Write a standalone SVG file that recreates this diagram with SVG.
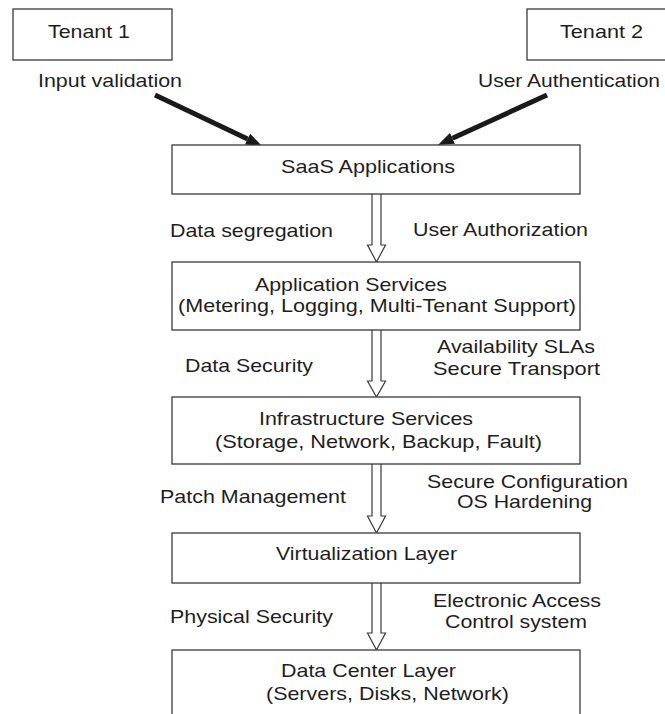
<svg xmlns="http://www.w3.org/2000/svg" width="665" height="714" viewBox="0 0 665 714">
  <style>
    .box { fill: #ffffff; stroke: #3a3a3a; stroke-width: 1.3; }
    .lbl { font-family: "Liberation Sans", Arial, sans-serif; font-size: 18.5px; fill: #1e1e1e; }
    .flow { fill: #ffffff; stroke: #3a3a3a; stroke-width: 1.2; stroke-linejoin: miter; }
    .thick { stroke: #1a1a1a; stroke-width: 5; fill: none; }
  </style>
  <defs>
    <marker id="solidHead" markerUnits="userSpaceOnUse" viewBox="0 0 16 12" refX="0" refY="6" markerWidth="16" markerHeight="12" orient="auto">
      <path d="M0,0 L16,6 L0,12 z" fill="#1a1a1a"/>
    </marker>
  </defs>
  <rect width="665" height="714" fill="#ffffff"/>

  <!-- connectors -->
  <g id="connectors">
    <line class="thick" x1="155" y1="95" x2="247.6" y2="139.1" marker-end="url(#solidHead)"/>
    <line class="thick" x1="547" y1="95" x2="452.5" y2="138.3" marker-end="url(#solidHead)"/>
    <path class="flow" d="M372,194 V245 H367.5 L376.5,262 L385.5,245 H381 V194"/>
    <path class="flow" d="M372,330 V381 H367.5 L376.5,397 L385.5,381 H381 V330"/>
    <path class="flow" d="M372,464 V516 H367.5 L376.5,533 L385.5,516 H381 V464"/>
    <path class="flow" d="M372,583 V633 H367.5 L376.5,650 L385.5,633 H381 V583"/>
    <text class="lbl" x="38" y="87" textLength="144" lengthAdjust="spacingAndGlyphs">Input validation</text>
    <text class="lbl" x="478" y="87" textLength="182" lengthAdjust="spacingAndGlyphs">User Authentication</text>
    <text class="lbl" x="170" y="237" textLength="163" lengthAdjust="spacingAndGlyphs">Data segregation</text>
    <text class="lbl" x="413" y="236" textLength="175" lengthAdjust="spacingAndGlyphs">User Authorization</text>
    <text class="lbl" x="185" y="372" textLength="128" lengthAdjust="spacingAndGlyphs">Data Security</text>
    <text class="lbl" x="437" y="353" textLength="158" lengthAdjust="spacingAndGlyphs">Availability SLAs</text>
    <text class="lbl" x="433" y="375" textLength="167" lengthAdjust="spacingAndGlyphs">Secure Transport</text>
    <text class="lbl" x="160" y="503" textLength="186" lengthAdjust="spacingAndGlyphs">Patch Management</text>
    <text class="lbl" x="427" y="488" textLength="201" lengthAdjust="spacingAndGlyphs">Secure Configuration</text>
    <text class="lbl" x="457" y="508" textLength="135" lengthAdjust="spacingAndGlyphs">OS Hardening</text>
    <text class="lbl" x="170" y="623" textLength="163" lengthAdjust="spacingAndGlyphs">Physical Security</text>
    <text class="lbl" x="433" y="607" textLength="168" lengthAdjust="spacingAndGlyphs">Electronic Access</text>
    <text class="lbl" x="445" y="628" textLength="142" lengthAdjust="spacingAndGlyphs">Control system</text>
  </g>

  <g id="tenant1">
    <rect class="box" x="13" y="9" width="159" height="51"/>
    <text class="lbl" x="48" y="38" textLength="82" lengthAdjust="spacingAndGlyphs">Tenant 1</text>
  </g>

  <g id="tenant2">
    <rect class="box" x="527" y="9" width="150" height="51"/>
    <text class="lbl" x="560" y="38" textLength="83" lengthAdjust="spacingAndGlyphs">Tenant 2</text>
  </g>

  <g id="saas">
    <rect class="box" x="172" y="145" width="408" height="49"/>
    <text class="lbl" x="281" y="173" textLength="174" lengthAdjust="spacingAndGlyphs">SaaS Applications</text>
  </g>

  <g id="app-services">
    <rect class="box" x="172" y="262" width="408" height="68"/>
    <text class="lbl" x="255" y="291" textLength="192" lengthAdjust="spacingAndGlyphs">Application Services</text>
    <text class="lbl" x="178" y="312" textLength="398" lengthAdjust="spacingAndGlyphs">(Metering, Logging, Multi-Tenant Support)</text>
  </g>

  <g id="infra-services">
    <rect class="box" x="172" y="397" width="408" height="67"/>
    <text class="lbl" x="259" y="425" textLength="214" lengthAdjust="spacingAndGlyphs">Infrastructure Services</text>
    <text class="lbl" x="215" y="448" textLength="327" lengthAdjust="spacingAndGlyphs">(Storage, Network, Backup, Fault)</text>
  </g>

  <g id="virtualization">
    <rect class="box" x="172" y="533" width="408" height="50"/>
    <text class="lbl" x="276" y="560" textLength="181" lengthAdjust="spacingAndGlyphs">Virtualization Layer</text>
  </g>

  <g id="data-center">
    <rect class="box" x="172" y="650" width="408" height="80"/>
    <text class="lbl" x="281" y="677" textLength="175" lengthAdjust="spacingAndGlyphs">Data Center Layer</text>
    <text class="lbl" x="266" y="700" textLength="243" lengthAdjust="spacingAndGlyphs">(Servers, Disks, Network)</text>
  </g>
</svg>
